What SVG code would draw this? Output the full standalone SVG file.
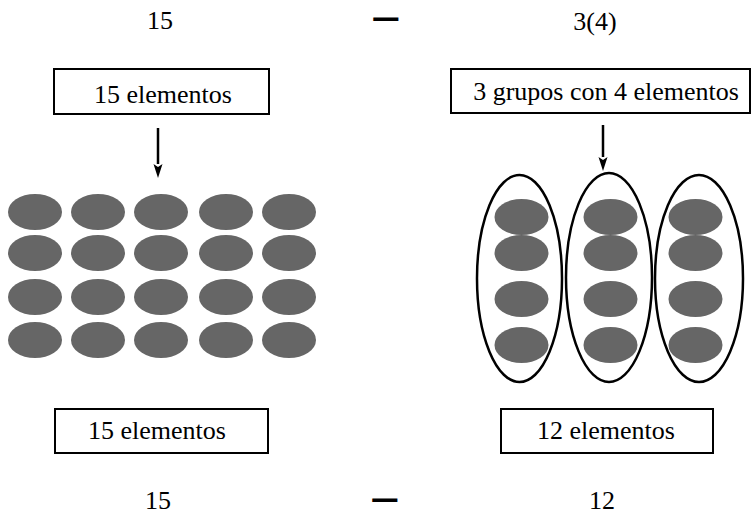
<svg xmlns="http://www.w3.org/2000/svg" width="752" height="516" viewBox="0 0 752 516">
<style>
.t{font-family:"Liberation Serif","Times New Roman",serif;font-size:26px;fill:#000;text-anchor:middle}
.op{font-family:"Liberation Serif","Times New Roman",serif;font-size:24px;fill:#000;stroke:#000;stroke-width:2.4;text-anchor:middle}
.box{fill:#fff;stroke:#000;stroke-width:2}
.dot{fill:#666}
.grp{fill:none;stroke:#000;stroke-width:2.5}
.conn{stroke:#000;stroke-width:2.5;fill:none}
</style>
<defs>
<ellipse id="d" rx="27" ry="18" class="dot"/>
</defs>
<rect width="752" height="516" fill="#fff"/>

<g id="top-eq">
<text class="t" x="160" y="29">15</text>
<text class="op" transform="translate(386,26.7) scale(1.85,1)">−</text>
<text class="t" x="595" y="30">3(4)</text>
</g>

<g id="box-top-left">
<rect class="box" x="54" y="69" width="215" height="45"/>
<text class="t" x="163" y="103">15 elementos</text>
</g>

<g id="box-top-right">
<rect class="box" x="451" y="69" width="299" height="44"/>
<text class="t" x="606" y="100">3 grupos con 4 elementos</text>
</g>

<g id="connectors">
<line class="conn" x1="158" y1="128" x2="158" y2="164"/>
<path d="M153.5,164 L158,178 L162.5,164 L158,167 Z" fill="#000"/>
<line class="conn" x1="603" y1="125" x2="603" y2="157"/>
<path d="M598.5,157 L603,171 L607.5,157 L603,160 Z" fill="#000"/>
</g>

<g id="grid-15">
<use href="#d" x="35" y="212"/><use href="#d" x="98" y="212"/><use href="#d" x="161" y="212"/><use href="#d" x="226" y="212"/><use href="#d" x="289" y="212"/>
<use href="#d" x="35" y="253"/><use href="#d" x="98" y="253"/><use href="#d" x="161" y="253"/><use href="#d" x="226" y="253"/><use href="#d" x="289" y="253"/>
<use href="#d" x="35" y="297"/><use href="#d" x="98" y="297"/><use href="#d" x="161" y="297"/><use href="#d" x="226" y="297"/><use href="#d" x="289" y="297"/>
<use href="#d" x="35" y="340"/><use href="#d" x="98" y="340"/><use href="#d" x="161" y="340"/><use href="#d" x="226" y="340"/><use href="#d" x="289" y="340"/>
</g>

<g id="group-1">
<ellipse class="grp" cx="519.5" cy="278.5" rx="42.5" ry="103.5"/>
<use href="#d" x="521.5" y="217"/><use href="#d" x="521.5" y="253"/><use href="#d" x="521.5" y="299"/><use href="#d" x="521.5" y="345"/>
</g>
<g id="group-2">
<ellipse class="grp" cx="609" cy="277.5" rx="43" ry="104.5"/>
<use href="#d" x="610.5" y="217"/><use href="#d" x="610.5" y="253"/><use href="#d" x="610.5" y="299"/><use href="#d" x="610.5" y="345"/>
</g>
<g id="group-3">
<ellipse class="grp" cx="699" cy="278.5" rx="44" ry="103.5"/>
<use href="#d" x="695.5" y="217"/><use href="#d" x="695.5" y="253"/><use href="#d" x="695.5" y="299"/><use href="#d" x="695.5" y="345"/>
</g>

<g id="box-bottom-left">
<rect class="box" x="55" y="409" width="213" height="44"/>
<text class="t" x="157" y="439">15 elementos</text>
</g>

<g id="box-bottom-right">
<rect class="box" x="501" y="409" width="212" height="44"/>
<text class="t" x="606" y="439">12 elementos</text>
</g>

<g id="bottom-eq">
<text class="t" x="158" y="509">15</text>
<text class="op" transform="translate(385,507.7) scale(1.85,1)">−</text>
<text class="t" x="602" y="509">12</text>
</g>
</svg>
